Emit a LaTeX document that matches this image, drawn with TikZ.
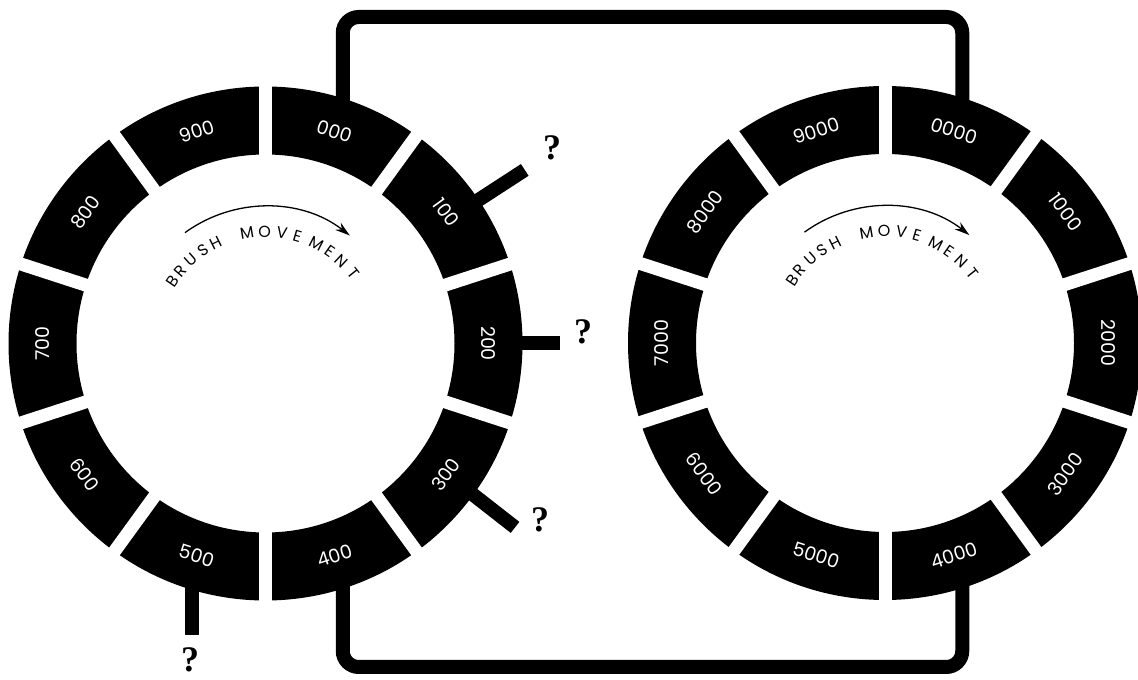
\documentclass[tikz,border=0pt]{standalone}
\usepackage{fontspec}
\setmainfont{Poppins}
\newfontfamily\qmarkfont{Liberation Serif}
\usetikzlibrary{arrows.meta}

\begin{document}
\begin{tikzpicture}[
  x=1pt,y=1pt,
  ring/.style={fill=black,even odd rule},
  gap/.style={draw=white,line width=13pt},
  seglabel/.style={text=white,font=\fontsize{19}{21}\selectfont,inner sep=0pt},
  movetext/.style={font=\fontsize{16}{18}\selectfont,inner sep=0pt},
  movearrow/.style={-{Stealth[length=15pt,width=9pt]},line width=1.3pt},
  wire/.style={line width=14pt,rounded corners=16pt},
  brush/.style={line width=14pt},
  qmark/.style={font=\qmarkfont\bfseries\fontsize{36}{38}\selectfont,inner sep=0pt}
]
  \useasboundingbox (0,0) rectangle (1138,680);
  \coordinate (L) at (265.5,336.5);
  \coordinate (R) at (885,337);
  \coordinate (top) at (0,663);
  \coordinate (bottom) at (0,13);

  \foreach \ring/\tail in {L/{},R/0} {
    \fill[ring] (\ring) circle (257) (\ring) circle (189);
    \foreach \a in {90,54,...,-234}
      \draw[gap] (\ring) ++(\a:180) -- ++(\a:90);
    \foreach \d/\a in {0/72,1/36,2/0,3/-36,4/-72,5/-108,6/-144,7/180,8/144,9/108} {
      \pgfmathsetmacro\rot{\a>=0 ? \a-90 : \a+90}
      \path (\ring) ++(\a:223) node[seglabel,rotate=\rot] (lab\ring\d) {\d00\tail};
    }
    \foreach \ch/\a [count=\i] in {B/146,R/139.5,U/131.5,S/124,H/116.5,M/99.5,O/90.5,V/81.5,E/73.5,M/63,E/55,N/47,T/38.5}
      \path (\ring) ++(\a:112) node[movetext,rotate=\a-90] (mv\ring\i) {\ch};
    \draw[movearrow] (\ring) ++(126:137) arc[start angle=126,end angle=52,radius=137];
  }

  \path (L) ++(72:250) coordinate (Ltop) (L) ++(-72:250) coordinate (Lbot);
  \path (R) ++(72:250) coordinate (Rtop) (R) ++(-72:250) coordinate (Rbot);
  \draw[wire] (Ltop) -- (Ltop |- top) -- (Rtop |- top) -- (Rtop);
  \draw[wire] (Lbot) -- (Lbot |- bottom) -- (Rbot |- bottom) -- (Rbot);

  \path (L) ++(34:250) coordinate (b1) ++(33:62) coordinate (b1end);
  \path (L) ++(0:250) coordinate (b2) ++(0:44) coordinate (b2end);
  \path (L) ++(-36:250) coordinate (b3) ++(-38:60) coordinate (b3end);
  \path (L) ++(-107:250) coordinate (b5) ++(-90:52) coordinate (b5end);
  \draw[brush] (b1) -- (b1end);
  \draw[brush] (b2) -- (b2end);
  \draw[brush] (b3) -- (b3end);
  \draw[brush] (b5) -- (b5end);

  \node[qmark] (q1) at (552,532) {?};
  \node[qmark] (q2) at (583,348) {?};
  \node[qmark] (q3) at (540,160) {?};
  \node[qmark] (q5) at (190,20) {?};
\end{tikzpicture}
\end{document}
